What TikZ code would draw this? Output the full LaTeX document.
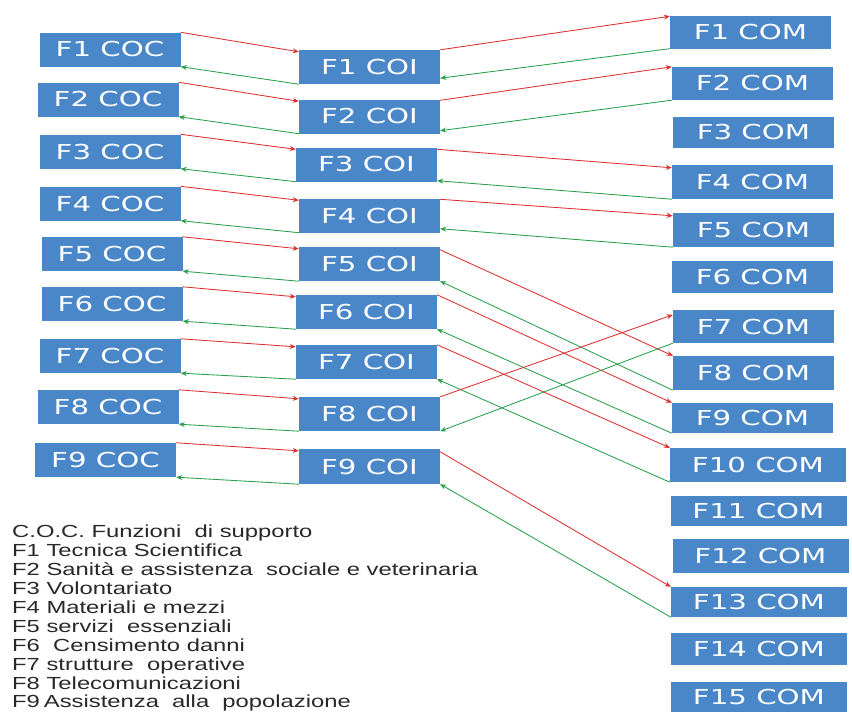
\documentclass[tikz,border=0pt]{standalone}
\usepackage{fontspec}
\usepackage{graphicx}
\usetikzlibrary{arrows.meta}
\newfontfamily\boxfont{DejaVu Sans}
\newfontfamily\legfont{Liberation Sans}
\definecolor{boxblue}{RGB}{74,135,201}
\definecolor{linkred}{RGB}{222,48,48}
\definecolor{linkgreen}{RGB}{40,160,75}
\definecolor{legendtext}{RGB}{40,40,40}
% wide lettering used throughout the chart
\newcommand{\boxlabel}[1]{\scalebox{1.42}[1]{#1}}
\newcommand{\leglabel}[1]{\scalebox{1.36}[1]{#1}}

\begin{document}
\begin{tikzpicture}[x=1pt,y=-1pt,
  unit/.style={fill=boxblue, text=white, inner sep=0pt,
    minimum width=141pt, minimum height=34pt,
    font=\boxfont\fontsize{20.6}{24}\selectfont},
  combox/.style={unit, minimum width=161pt, minimum height=33pt},
  widecom/.style={unit, minimum width=176pt, minimum height=32pt},
  tip/.style={-{Stealth[length=6pt,width=5pt]}, line width=0.85pt},
  down/.style={tip, draw=linkred},
  up/.style={tip, draw=linkgreen},
  legend/.style={anchor=base west, inner sep=0pt, text=legendtext,
    font=\legfont\fontsize{17.5}{19}\selectfont}
]
\useasboundingbox (0,0) rectangle (852,712);

% municipal level (COC)
\node[unit] (coc1) at (110,49.5) {\boxlabel{F1 COC}};
\node[unit] (coc2) at (108,99.5) {\boxlabel{F2 COC}};
\node[unit] (coc3) at (110,151.5) {\boxlabel{F3 COC}};
\node[unit] (coc4) at (110,203.5) {\boxlabel{F4 COC}};
\node[unit] (coc5) at (112,254) {\boxlabel{F5 COC}};
\node[unit] (coc6) at (112,304) {\boxlabel{F6 COC}};
\node[unit] (coc7) at (110,356) {\boxlabel{F7 COC}};
\node[unit] (coc8) at (108,407) {\boxlabel{F8 COC}};
\node[unit] (coc9) at (105.5,460) {\boxlabel{F9 COC}};

% intermunicipal level (COI)
\node[unit] (coi1) at (369.5,67) {\boxlabel{F1 COI}};
\node[unit] (coi2) at (369.5,116.5) {\boxlabel{F2 COI}};
\node[unit] (coi3) at (366.5,164.5) {\boxlabel{F3 COI}};
\node[unit] (coi4) at (369.5,215.5) {\boxlabel{F4 COI}};
\node[unit] (coi5) at (369.5,264) {\boxlabel{F5 COI}};
\node[unit] (coi6) at (366.5,312) {\boxlabel{F6 COI}};
\node[unit] (coi7) at (366.5,362) {\boxlabel{F7 COI}};
\node[unit] (coi8) at (369.5,414) {\boxlabel{F8 COI}};
\node[unit, minimum height=35pt] (coi9) at (369.5,466.5) {\boxlabel{F9 COI}};

% mixed operations centres (COM)
\node[combox] (com1) at (750.5,32) {\boxlabel{F1 COM}};
\node[combox] (com2) at (752.5,83.5) {\boxlabel{F2 COM}};
\node[combox, minimum height=31pt] (com3) at (753.5,132.5) {\boxlabel{F3 COM}};
\node[combox, minimum height=34pt] (com4) at (752.5,182) {\boxlabel{F4 COM}};
\node[combox, minimum height=34pt] (com5) at (753.5,230) {\boxlabel{F5 COM}};
\node[combox, minimum height=32pt] (com6) at (752.5,277) {\boxlabel{F6 COM}};
\node[combox] (com7) at (753.5,326.5) {\boxlabel{F7 COM}};
\node[combox, minimum height=34pt] (com8) at (753.5,373) {\boxlabel{F8 COM}};
\node[combox, minimum height=30pt] (com9) at (752.5,418) {\boxlabel{F9 COM}};
\node[widecom, minimum height=34pt] (com10) at (758,465) {\boxlabel{F10 COM}};
\node[widecom, minimum height=30pt] (com11) at (758.5,511) {\boxlabel{F11 COM}};
\node[widecom, minimum height=34pt] (com12) at (760.5,556) {\boxlabel{F12 COM}};
\node[widecom, minimum height=30pt] (com13) at (759,602) {\boxlabel{F13 COM}};
\node[widecom] (com14) at (759,649) {\boxlabel{F14 COM}};
\node[widecom, minimum height=30pt] (com15) at (759,697) {\boxlabel{F15 COM}};

% COC <-> COI exchanges
\foreach \i in {1,...,9}{
  \draw[down] (coc\i.north east) -- ([yshift=-2pt]coi\i.north west);
  \draw[up] (coi\i.south west) -- (coc\i.south east);
}

% COI <-> COM exchanges
\draw[down] (coi1.north east) -- ([yshift=-1pt]com1.north west);
\draw[up] (com1.south west) -- ([yshift=6pt]coi1.south east);
\draw[down] ([yshift=-1pt]coi2.north east) -- (com2.north west);
\draw[up] (com2.south west) -- ([yshift=3pt]coi2.south east);
\draw[down] ([yshift=-2pt]coi3.north east) -- ([yshift=-3pt]com4.north west);
\draw[up] (com4.south west) -- ([yshift=1pt]coi3.south east);
\draw[down] ([yshift=-1pt]coi4.north east) -- ([yshift=-3pt]com5.north west);
\draw[up] (com5.south west) -- ([yshift=4pt]coi4.south east);
\draw[down] ([yshift=-3pt]coi5.north east) -- (com8.north west);
\draw[up] (com8.south west) -- (coi5.south east);
\draw[down] (coi6.north east) -- (com9.north west);
\draw[up] (com9.south west) -- (coi6.south east);
\draw[down] (coi7.north east) -- (com10.north west);
\draw[up] (com10.south west) -- (coi7.south east);
\draw[down] (coi8.north east) -- ([yshift=-5pt]com7.north west);
\draw[up] (com7.south west) -- (coi8.south east);
\draw[down] ([yshift=-3pt]coi9.north east) -- (com13.north west);
\draw[up] (com13.south west) -- (coi9.south east);

% key to the support functions
\node[legend] (leg0) at (12,537) {\leglabel{C.O.C. Funzioni\ \ di supporto}};
\node[legend] (leg1) at (12,556) {\leglabel{F1 Tecnica Scientifica}};
\node[legend] (leg2) at (12,575) {\leglabel{F2 Sanità e assistenza\ \ sociale e veterinaria}};
\node[legend] (leg3) at (12,594) {\leglabel{F3 Volontariato}};
\node[legend] (leg4) at (12,613) {\leglabel{F4 Materiali e mezzi}};
\node[legend] (leg5) at (12,632) {\leglabel{F5 servizi\ \ essenziali}};
\node[legend] (leg6) at (12,651) {\leglabel{F6\ \ Censimento danni}};
\node[legend] (leg7) at (12,670) {\leglabel{F7 strutture\ \ operative}};
\node[legend] (leg8) at (12,689) {\leglabel{F8 Telecomunicazioni}};
\node[legend] (leg9) at (12,707.5) {\leglabel{F9\,Assistenza\ \ alla\ \ popolazione}};
\end{tikzpicture}
\end{document}
